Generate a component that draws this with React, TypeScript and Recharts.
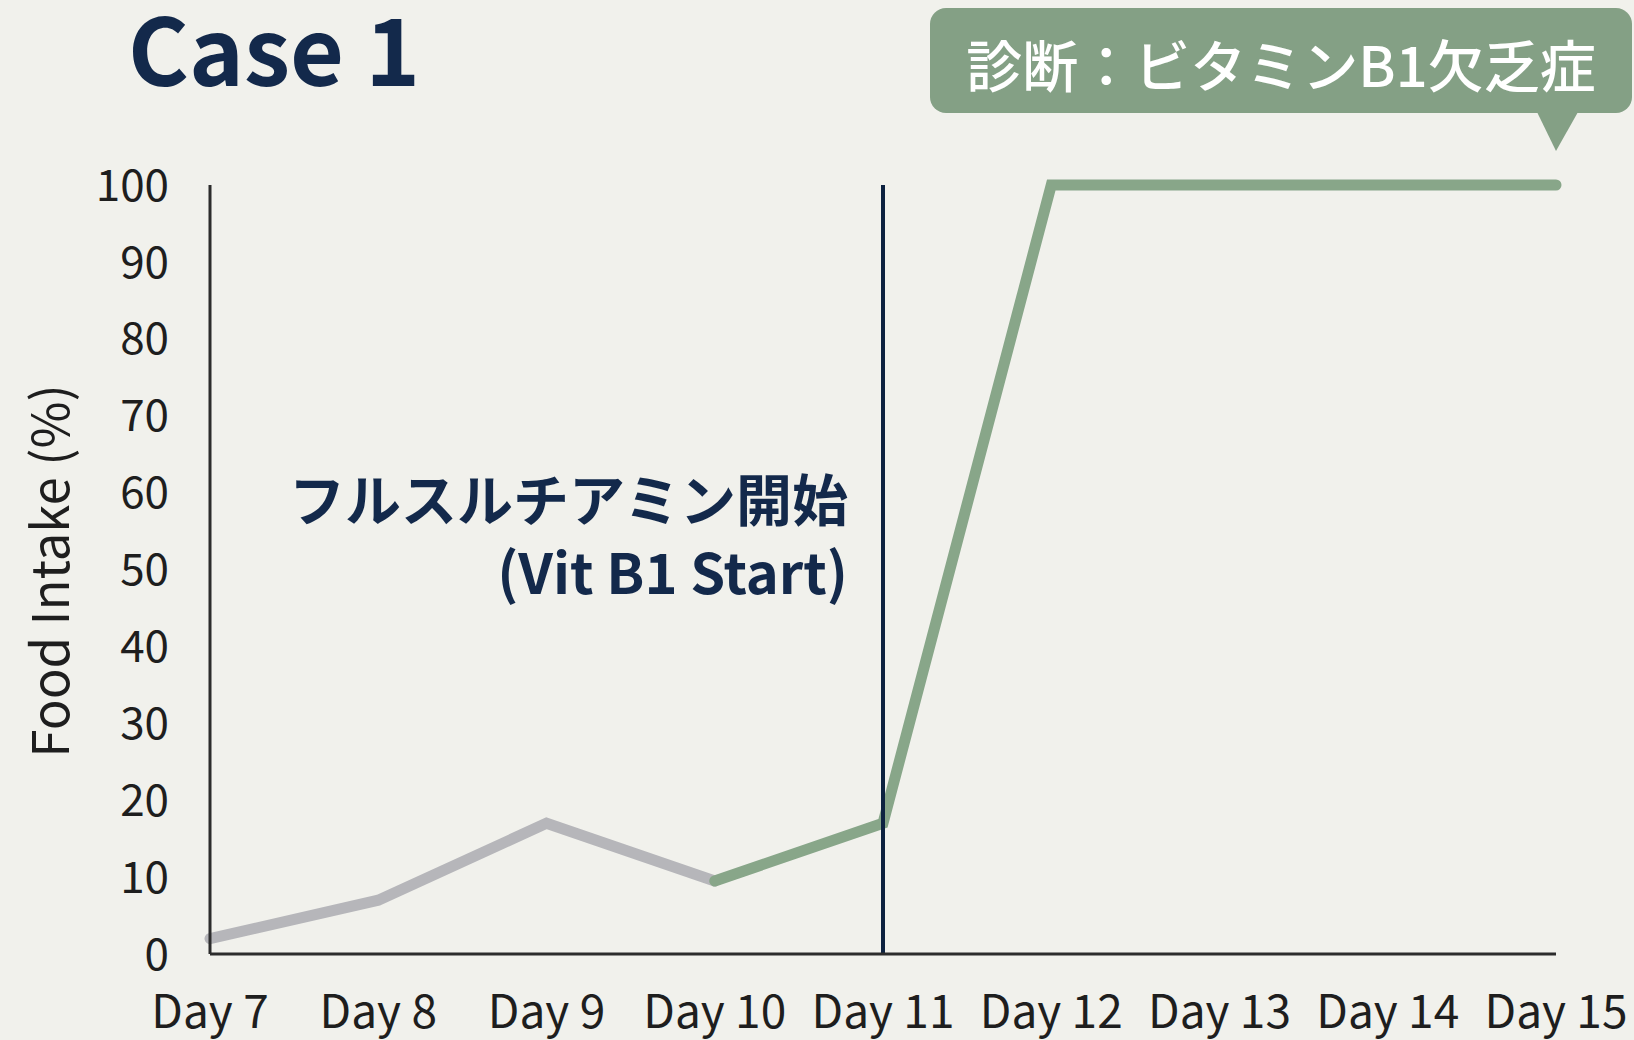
import React from 'react';
import { LineChart, Line, XAxis, YAxis, ReferenceLine } from 'recharts';

const days = ['Day 7', 'Day 8', 'Day 9', 'Day 10', 'Day 11', 'Day 12', 'Day 13', 'Day 14', 'Day 15'];
const beforeIntake = [2, 7, 17, 9.5, null, null, null, null, null];
const afterIntake = [null, null, null, 9.5, 17, 100, 100, 100, 100];
const yTicks = [0, 10, 20, 30, 40, 50, 60, 70, 80, 90, 100];
const startDay = 'Day 11';
const title = 'Case 1';
const diagnosis = '診断：ビタミンB1欠乏症';
const startLabel = ['フルスルチアミン開始', '(Vit B1 Start)'];
const yLabel = 'Food Intake (%)';

const data = days.map((day, i) => ({ day, before: beforeIntake[i], after: afterIntake[i] }));

const FONT = "'Noto Sans CJK JP', 'Noto Sans', sans-serif";
const NAVY = '#13294b';
const GREEN = '#88a689';
const GRAY = '#b6b6ba';
const AXIS = '#2c2c2c';

// annotation next to the vitamin B1 start line
const StartLabel = (props: any) => {
  const { viewBox } = props;
  const x = viewBox.x - 35;
  return (
    <text textAnchor="end" fill={NAVY} fontSize={56} fontWeight={700} fontFamily={FONT}>
      <tspan x={x} y={521}>{startLabel[0]}</tspan>
      <tspan x={x} y={594}>{startLabel[1]}</tspan>
    </text>
  );
};

const YLabel = () => (
  <text
    x={47}
    y={571}
    transform="rotate(-90 47 571)"
    textAnchor="middle"
    dominantBaseline="central"
    fill="#1e1e1e"
    fontSize={51}
    fontFamily={FONT}
  >
    {yLabel}
  </text>
);

const App = () => {
  return (
    <div style={{ position: 'absolute', top: 0, left: 0, width: 1634, height: 1040, background: '#f1f1ec', overflow: 'hidden' }}>
      <LineChart width={1634} height={1040} data={data} margin={{ top: 185, right: 78, bottom: 6, left: 0 }}>
        <XAxis
          dataKey="day"
          height={80}
          tickLine={false}
          tickMargin={35}
          axisLine={{ stroke: AXIS, strokeWidth: 3 }}
          tick={{ fill: '#1e1e1e', fontSize: 46, fontFamily: FONT }}
          interval={0}
        />
        <YAxis
          width={210}
          domain={[0, 100]}
          ticks={yTicks}
          tickLine={false}
          tickMargin={35}
          axisLine={{ stroke: AXIS, strokeWidth: 3 }}
          tick={{ fill: '#1e1e1e', fontSize: 44, fontFamily: FONT }}
          label={<YLabel />}
        />
        <Line
          dataKey="before"
          stroke={GRAY}
          strokeWidth={11}
          dot={false}
          strokeLinecap="round"
          isAnimationActive={false}
        />
        <Line
          dataKey="after"
          stroke={GREEN}
          strokeWidth={11}
          dot={false}
          strokeLinecap="round"
          isAnimationActive={false}
        />
        <ReferenceLine x={startDay} stroke="#0d2240" strokeWidth={4} label={<StartLabel />} />
      </LineChart>
      <svg width={1634} height={1040} style={{ position: 'absolute', top: 0, left: 0, pointerEvents: 'none' }}>
        <text x={128} y={86} fill={NAVY} fontSize={93} fontWeight={700} fontFamily={FONT}>
          {title}
        </text>
        <rect x={930} y={8} width={702} height={105} rx={16} fill="#84a085" />
        <path d="M1537 112 L1578 112 L1556 151 Z" fill="#84a085" />
        <text x={1281} y={62} textAnchor="middle" dominantBaseline="central" fill="#ffffff" fontSize={56} fontWeight={500} fontFamily={FONT}>
          {diagnosis}
        </text>
      </svg>
    </div>
  );
};

export default App;
